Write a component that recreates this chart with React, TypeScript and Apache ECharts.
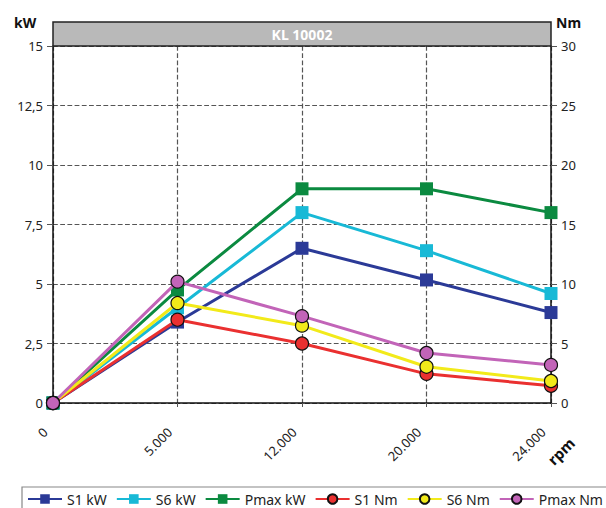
import React, { useEffect, useRef } from "react";
import * as echarts from "echarts";

const categories = ["0", "5.000", "12.000", "20.000", "24.000"];
const s1kW = [0, 3.4, 6.5, 5.17, 3.8];
const s6kW = [0, 4.0, 8.0, 6.4, 4.6];
const pmaxkW = [0, 4.75, 9.0, 9.0, 8.0];
const s1Nm = [0, 7.0, 5.0, 2.45, 1.45];
const s6Nm = [0, 8.4, 6.5, 3.05, 1.85];
const pmaxNm = [0, 10.2, 7.3, 4.2, 3.2];
const leftTicks = { min: 0, max: 15, interval: 2.5 };
const rightTicks = { min: 0, max: 30, interval: 5 };
const title = "KL 10002";

const FONT = "'Noto Sans', sans-serif";

export default function App() {
  const ref = useRef<HTMLDivElement>(null);
  useEffect(() => {
    if (!ref.current) return;
    const chart = echarts.init(ref.current, null, { renderer: "svg" });
    const sq = (name: string, data: number[], color: string) => ({
      name,
      type: "line",
      yAxisIndex: 0,
      data,
      symbol: "rect",
      symbolSize: 13,
      lineStyle: { color, width: 3 },
      itemStyle: { color, borderWidth: 0 },
      z: 2,
    });
    const ci = (name: string, data: number[], color: string) => ({
      name,
      type: "line",
      yAxisIndex: 1,
      data,
      symbol: "circle",
      symbolSize: 13,
      lineStyle: { color, width: 3 },
      itemStyle: { color, borderColor: "#111", borderWidth: 1.2 },
      z: 3,
    });
    chart.setOption({
      animation: false,
      backgroundColor: "#ffffff",
      textStyle: { fontFamily: FONT },
      grid: { left: 53, right: 55, top: 46, bottom: 105 },
      legend: {
        left: 27,
        top: 492,
        width: 579,
        itemWidth: 34,
        itemHeight: 12,
        itemGap: 9,
        padding: 0,
        textStyle: { fontSize: 14, color: "#222", fontFamily: FONT },
        data: ["S1 kW", "S6 kW", "Pmax kW", "S1 Nm", "S6 Nm", "Pmax Nm"],
      },
      xAxis: {
        type: "category",
        data: categories,
        boundaryGap: false,
        axisLine: { lineStyle: { color: "#111", width: 1.5 } },
        axisTick: { show: true, length: 6, inside: false, lineStyle: { color: "#555", type: "dashed" } },
        axisLabel: {
          rotate: 45,
          fontSize: 13,
          color: "#222",
          margin: 19,
          padding: [0, 11, 0, 0],
          fontFamily: FONT,
        },
        splitLine: { show: true, lineStyle: { color: "#555", type: "dashed", width: 1.2 } },
      },
      yAxis: [
        {
          type: "value",
          ...leftTicks,
          position: "left",
          axisLine: { show: true, lineStyle: { color: "#111", width: 1.5 } },
          axisTick: { show: true, length: 6, lineStyle: { color: "#555" } },
          axisLabel: {
            fontSize: 13,
            color: "#222",
            margin: 10,
            fontFamily: FONT,
            formatter: (v: number) => String(v).replace(".", ","),
          },
          splitLine: { show: true, lineStyle: { color: "#555", type: "dashed", width: 1.2 } },
        },
        {
          type: "value",
          ...rightTicks,
          position: "right",
          axisLine: { show: true, lineStyle: { color: "#111", width: 1.5 } },
          axisTick: { show: true, length: 6, lineStyle: { color: "#555" } },
          axisLabel: { fontSize: 13, color: "#222", margin: 10, fontFamily: FONT },
          splitLine: { show: false },
        },
      ],
      graphic: [
        {
          type: "rect",
          shape: { x: 53, y: 22, width: 498, height: 24 },
          style: { fill: "#b9b9b9", stroke: "#222", lineWidth: 1.5 },
          z: 10,
        },
        {
          type: "text",
          x: 302,
          y: 34,
          style: {
            text: title,
            fill: "#ffffff",
            font: `bold 14px ${FONT}`,
            align: "center",
            verticalAlign: "middle",
          },
          z: 11,
        },
        {
          type: "text",
          x: 14,
          y: 22,
          style: { text: "kW", fill: "#111", font: `bold 14px ${FONT}`, verticalAlign: "middle" },
        },
        {
          type: "text",
          x: 556,
          y: 22,
          style: { text: "Nm", fill: "#111", font: `bold 14px ${FONT}`, verticalAlign: "middle" },
        },
        {
          type: "text",
          x: 561,
          y: 451,
          rotation: Math.PI / 4,
          style: {
            text: "rpm",
            fill: "#111",
            font: `bold 15px ${FONT}`,
            align: "center",
            verticalAlign: "middle",
          },
        },
        {
          type: "rect",
          shape: { x: 22, y: 487, width: 600, height: 26 },
          style: { fill: "none", stroke: "#888", lineWidth: 1.2 },
        },
      ],
      series: [
        sq("S1 kW", s1kW, "#2b3a97"),
        sq("S6 kW", s6kW, "#18b9d6"),
        sq("Pmax kW", pmaxkW, "#0b8a40"),
        ci("S1 Nm", s1Nm, "#ea3030"),
        ci("S6 Nm", s6Nm, "#f2ea1a"),
        ci("Pmax Nm", pmaxNm, "#c264b8"),
      ],
    });
    return () => chart.dispose();
  }, []);
  return <div ref={ref} style={{ width: 606, height: 508, position: "absolute", left: 0, top: 0 }} />;
}
